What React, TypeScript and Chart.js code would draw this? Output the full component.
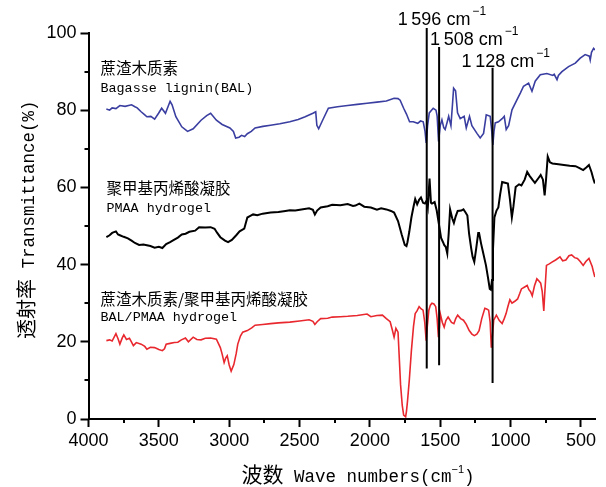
import React, { useEffect, useRef } from 'react';
import { Chart, registerables } from 'chart.js';

Chart.register(...registerables);

// ---- Data: [wavenumber (cm-1), transmittance (%)] ----
const balSpectrum: number[][] = [
  [3873, 80.3], [3850, 80.0], [3832, 80.6], [3805, 80.4], [3777, 81.2], [3740, 81.0], [3694, 81.4], [3670, 80.9],
  [3654, 80.6], [3626, 79.6], [3600, 78.8], [3585, 78.3], [3557, 78.4], [3530, 77.7], [3502, 79.2], [3480, 80.5],
  [3453, 79.2], [3420, 82.3], [3406, 81.4], [3379, 78.3], [3337, 75.7], [3296, 74.5], [3256, 75.2], [3200, 77.4],
  [3160, 78.6], [3132, 79.2], [3091, 77.4], [3050, 76.3], [2995, 75.4], [2970, 74.5], [2954, 72.8], [2930, 73.0],
  [2912, 73.5], [2890, 73.2], [2871, 73.9], [2843, 74.5], [2816, 75.4], [2760, 75.8], [2706, 76.1], [2640, 76.5],
  [2569, 77.0], [2510, 77.6], [2460, 78.3], [2405, 79.2], [2385, 79.6], [2377, 76.1], [2364, 75.2], [2336, 77.4],
  [2295, 80.5], [2230, 80.9], [2158, 81.2], [2090, 81.5], [2020, 81.8], [1950, 82.1], [1883, 82.4], [1828, 83.1],
  [1800, 83.0], [1785, 82.6], [1760, 80.5], [1740, 79.0], [1718, 77.0], [1692, 77.0], [1660, 76.6], [1640, 77.2],
  [1621, 77.0], [1608, 74.5], [1600, 71.5], [1590, 76.0], [1578, 79.3], [1550, 80.5], [1530, 80.0], [1522, 78.5],
  [1512, 71.9], [1500, 76.0], [1488, 77.5], [1475, 75.5], [1465, 75.0], [1450, 77.0], [1440, 78.4], [1424, 76.0],
  [1412, 82.0], [1405, 85.7], [1391, 85.0], [1377, 79.3], [1358, 77.8], [1330, 78.4], [1315, 75.4], [1292, 78.4],
  [1275, 76.0], [1239, 74.0], [1216, 72.8], [1192, 74.0], [1173, 78.8], [1145, 78.4], [1135, 75.0], [1126, 71.0],
  [1118, 74.5], [1109, 76.7], [1086, 77.0], [1060, 77.8], [1045, 78.4], [1031, 75.0], [1014, 76.0], [990, 80.1],
  [955, 82.7], [930, 84.5], [908, 86.2], [872, 87.0], [848, 84.9], [825, 87.5], [789, 89.2], [742, 89.5],
  [700, 89.0], [690, 89.3], [670, 87.9], [660, 89.0], [635, 90.0], [588, 91.3], [540, 92.2], [505, 93.5],
  [470, 94.4], [440, 94.0], [434, 93.0], [425, 95.0], [410, 96.0], [400, 95.6],
];

const pmaaSpectrum: number[][] = [
  [3873, 47.1], [3850, 47.6], [3832, 48.2], [3805, 48.6], [3790, 47.8], [3777, 47.6], [3750, 47.2], [3720, 46.8],
  [3694, 46.2], [3670, 45.6], [3640, 45.1], [3610, 45.2], [3585, 45.0], [3560, 44.8], [3530, 44.4], [3500, 44.6],
  [3475, 44.3], [3448, 45.3], [3420, 45.8], [3393, 46.4], [3365, 47.0], [3337, 47.8], [3310, 48.0], [3283, 48.5],
  [3242, 48.8], [3214, 49.7], [3170, 49.6], [3132, 49.7], [3104, 49.3], [3085, 48.2], [3063, 47.1], [3030, 46.2],
  [3008, 45.8], [2981, 46.4], [2950, 47.6], [2926, 48.6], [2893, 49.3], [2871, 52.2], [2850, 52.6], [2830, 53.0],
  [2800, 52.8], [2762, 53.2], [2706, 53.5], [2650, 53.6], [2600, 53.9], [2569, 54.1], [2530, 54.0], [2487, 54.3],
  [2432, 54.6], [2405, 54.2], [2391, 53.0], [2375, 54.0], [2350, 54.8], [2300, 55.1], [2268, 55.5], [2210, 55.4],
  [2158, 55.7], [2120, 55.2], [2103, 55.3], [2075, 55.8], [2040, 55.0], [1993, 54.8], [1950, 54.2], [1920, 54.6],
  [1883, 54.3], [1850, 53.9], [1828, 53.5], [1800, 51.3], [1774, 47.8], [1752, 45.1], [1740, 44.8], [1733, 45.8],
  [1720, 48.5], [1705, 52.2], [1690, 55.0], [1678, 57.0], [1664, 55.6], [1650, 56.8], [1637, 57.4], [1622, 56.0],
  [1609, 55.8], [1596, 56.6], [1588, 55.0], [1576, 62.3], [1566, 56.0], [1559, 55.8], [1540, 56.2], [1525, 54.0],
  [1513, 51.3], [1494, 46.9], [1480, 45.8], [1472, 45.1], [1460, 44.5], [1450, 42.9], [1440, 48.0], [1430, 54.3],
  [1415, 52.0], [1403, 50.8], [1390, 52.5], [1376, 53.9], [1350, 54.0], [1335, 54.3], [1320, 53.5], [1307, 52.7],
  [1295, 48.0], [1280, 44.2], [1270, 42.0], [1258, 40.7], [1245, 44.0], [1230, 48.2], [1224, 48.2], [1210, 45.5],
  [1197, 43.4], [1175, 39.8], [1160, 36.5], [1148, 33.7], [1140, 33.5], [1132, 36.0], [1125, 44.0], [1115, 52.2],
  [1100, 54.0], [1087, 54.8], [1075, 58.0], [1060, 61.4], [1040, 61.2], [1019, 61.0], [1005, 57.0], [991, 52.2],
  [980, 55.0], [964, 60.1], [940, 60.8], [923, 60.5], [900, 62.0], [882, 64.0], [865, 63.0], [845, 62.0],
  [827, 61.2], [800, 62.5], [786, 63.2], [770, 62.0], [758, 57.9], [748, 62.0], [736, 68.0], [720, 66.5],
  [703, 66.2], [660, 66.0], [621, 65.8], [580, 65.6], [538, 65.5], [510, 65.0], [484, 64.5], [460, 65.2],
  [443, 65.8], [425, 64.0], [410, 62.0], [401, 61.0],
];

const compositeSpectrum: number[][] = [
  [3873, 20.3], [3850, 20.5], [3832, 20.2], [3805, 22.1], [3790, 20.8], [3777, 19.4], [3760, 21.0], [3749, 21.8],
  [3730, 20.6], [3709, 20.9], [3695, 20.0], [3681, 19.0], [3660, 19.8], [3626, 19.4], [3600, 18.8], [3585, 18.1],
  [3560, 18.6], [3530, 18.5], [3500, 18.0], [3475, 17.7], [3460, 18.2], [3448, 19.4], [3420, 19.6], [3390, 19.8],
  [3365, 19.9], [3340, 20.5], [3311, 21.0], [3290, 20.0], [3256, 21.2], [3230, 20.6], [3200, 20.5], [3170, 20.9],
  [3132, 21.0], [3091, 20.7], [3063, 18.5], [3050, 16.8], [3036, 14.6], [3025, 15.8], [3014, 16.4], [3000, 14.0],
  [2986, 12.4], [2967, 14.1], [2950, 17.0], [2939, 19.4], [2920, 21.5], [2904, 22.5], [2871, 22.9], [2840, 23.6],
  [2816, 24.3], [2762, 24.5], [2706, 24.7], [2650, 24.9], [2569, 25.1], [2500, 25.4], [2432, 25.7], [2405, 25.3],
  [2391, 24.5], [2375, 25.2], [2350, 26.0], [2300, 26.1], [2268, 26.4], [2210, 26.5], [2158, 26.6], [2090, 26.8],
  [2020, 27.2], [1993, 26.5], [1950, 26.8], [1911, 26.9], [1883, 26.0], [1856, 25.2], [1840, 23.0], [1828, 21.2],
  [1815, 23.5], [1800, 22.5], [1790, 15.0], [1782, 8.9], [1770, 3.5], [1760, 1.0], [1746, 0.6], [1740, 2.0],
  [1733, 4.5], [1720, 10.0], [1705, 17.7], [1690, 24.0], [1678, 27.3], [1665, 28.0], [1650, 29.1], [1635, 28.5],
  [1622, 28.2], [1610, 25.0], [1600, 20.3], [1592, 24.0], [1581, 28.2], [1570, 29.5], [1559, 30.0], [1545, 29.8],
  [1532, 29.1], [1522, 26.0], [1513, 21.2], [1505, 24.0], [1500, 27.3], [1485, 25.0], [1472, 23.8], [1460, 25.5],
  [1444, 26.4], [1420, 25.0], [1403, 24.7], [1390, 26.0], [1376, 26.9], [1355, 26.0], [1335, 25.6], [1315, 24.5],
  [1294, 22.9], [1275, 22.0], [1258, 21.6], [1240, 22.0], [1224, 22.9], [1205, 26.0], [1183, 28.7], [1170, 28.5],
  [1156, 28.2], [1145, 25.0], [1137, 18.5], [1128, 22.0], [1120, 25.6], [1101, 26.9], [1080, 25.5], [1060, 24.7],
  [1045, 26.0], [1032, 27.3], [1020, 29.0], [1005, 30.9], [990, 30.0], [970, 30.5], [950, 31.1], [935, 32.5],
  [923, 33.7], [900, 34.2], [882, 34.6], [870, 33.5], [858, 33.0], [846, 31.9], [830, 34.5], [813, 36.3],
  [800, 35.8], [786, 35.2], [775, 33.0], [764, 28.0], [758, 32.0], [745, 39.8], [725, 40.2], [703, 40.7],
  [680, 41.2], [649, 42.0], [630, 41.0], [607, 41.2], [585, 42.3], [566, 42.5], [545, 41.8], [525, 41.6],
  [505, 40.8], [484, 39.8], [465, 40.8], [443, 41.6], [420, 39.5], [410, 38.0], [401, 36.8],
];

// Marker lines
const markerWave = [1596, 1508, 1128];
const markerTop = [101.3, 96.4, 91.0];
const markerBottom = [13.1, 13.9, 9.3];
const markerLabels = ['1\u2009596 cm', '1\u2009508 cm', '1\u2009128 cm'];

// Axis ticks
const xMajorTicks = [4000, 3500, 3000, 2500, 2000, 1500, 1000, 500];
const xMinorTicks = [3750, 3250, 2750, 2250, 1750, 1250, 750];
const yMajorTicks = [0, 20, 40, 60, 80, 100];
const yMinorTicks = [10, 30, 50, 70, 90];

// Series labels
const seriesNamesCN = ['蔗渣木质素', '聚甲基丙烯酸凝胶', '蔗渣木质素/聚甲基丙烯酸凝胶'];
const seriesNamesEN = ['Bagasse lignin(BAL)', 'PMAA hydrogel', 'BAL/PMAA hydrogel'];
const seriesColors = ['#3a3ea0', '#000000', '#e8282e'];

const xTitleCN = '波数';
const xTitleEN = ' Wave numbers(cm';
const yTitleCN = '透射率';
const yTitleEN = ' Transmittance(%)';

const CJK = '"Noto Sans CJK SC"';
const MONO = '"Liberation Mono"';
const SANS = '"Liberation Sans"';

type Part = { t: string; f: string; dy?: number; dx?: number };

function drawRun(ctx: CanvasRenderingContext2D, x: number, y: number, parts: Part[]) {
  let cx = x;
  for (const p of parts) {
    ctx.font = p.f;
    cx += p.dx || 0;
    ctx.fillText(p.t, cx, y + (p.dy || 0));
    cx += ctx.measureText(p.t).width;
  }
}

const toPoints = (s: number[][]) => s.map(([x, y]) => ({ x, y }));

export default function App() {
  const ref = useRef<HTMLCanvasElement>(null);

  useEffect(() => {
    const canvas = ref.current;
    if (!canvas) return;

    const overlay = {
      id: 'overlay',
      afterDraw(chart: any) {
        const ctx: CanvasRenderingContext2D = chart.ctx;
        const xs = chart.scales.x;
        const ys = chart.scales.y;
        const area = chart.chartArea;
        ctx.save();
        // minor ticks
        ctx.strokeStyle = '#000';
        ctx.lineWidth = 2;
        ctx.beginPath();
        xMinorTicks.forEach((v) => {
          const p = Math.round(xs.getPixelForValue(v));
          ctx.moveTo(p, area.bottom);
          ctx.lineTo(p, area.bottom + 4);
        });
        yMinorTicks.forEach((v) => {
          const p = Math.round(ys.getPixelForValue(v));
          ctx.moveTo(area.left - 4, p);
          ctx.lineTo(area.left, p);
        });
        ctx.stroke();

        ctx.fillStyle = '#000';
        ctx.textBaseline = 'alphabetic';
        ctx.textAlign = 'left';

        // marker labels
        const labelOffsets = [-29, -9, -31];
        const labelBaselines = [25, 44.5, 66.5];
        markerWave.forEach((w, i) => {
          const px = xs.getPixelForValue(w) + labelOffsets[i];
          drawRun(ctx, px, labelBaselines[i], [
            { t: markerLabels[i], f: `18px ${SANS}` },
            { t: '\u22121', f: `12px ${SANS}`, dy: -10, dx: 2 },
          ]);
        });

        // series labels
        const lx = [area.left + 12, area.left + 18, area.left + 12];
        const cnBase = [74, 193.5, 304.5];
        const enBase = [92, 212, 321];
        for (let i = 0; i < 3; i++) {
          drawRun(ctx, lx[i], cnBase[i], [{ t: seriesNamesCN[i], f: `15.5px ${CJK}` }]);
          drawRun(ctx, lx[i], enBase[i], [{ t: seriesNamesEN[i], f: `13.4px ${MONO}` }]);
        }

        // x title
        drawRun(ctx, 241.5, 482, [
          { t: xTitleCN, f: `21px ${CJK}` },
          { t: xTitleEN, f: `17.5px ${MONO}` },
          { t: '\u22121', f: `11px ${SANS}`, dy: -9, dx: 0 },
          { t: ')', f: `17.5px ${MONO}` },
        ]);

        // y title (rotated)
        ctx.translate(34, 339);
        ctx.rotate(-Math.PI / 2);
        drawRun(ctx, 0, 0, [
          { t: yTitleCN, f: `20px ${CJK}` },
          { t: yTitleEN, f: `17.5px ${MONO}` },
        ]);
        ctx.restore();
      },
    };

    const markerSets = markerWave.map((w, i) => ({
      label: 'marker' + i,
      data: [
        { x: w, y: markerTop[i] },
        { x: w, y: markerBottom[i] },
      ],
      borderColor: '#000',
      borderWidth: 2,
      pointRadius: 0,
      clip: false as any,
    }));

    const series = [balSpectrum, pmaaSpectrum, compositeSpectrum].map((s, i) => ({
      label: seriesNamesEN[i],
      data: toPoints(s),
      borderColor: seriesColors[i],
      borderWidth: i === 1 ? 2 : 1.6,
      pointRadius: 0,
      tension: 0,
    }));

    const chart = new Chart(canvas, {
      type: 'line',
      data: { datasets: [...markerSets, ...series] as any },
      options: {
        animation: false,
        responsive: false,
        devicePixelRatio: 1,
        layout: { padding: { left: 0, top: 33, right: 11, bottom: 0 } },
        plugins: { legend: { display: false }, tooltip: { enabled: false } },
        scales: {
          x: {
            type: 'linear',
            reverse: true,
            min: 400,
            max: 4000,
            grid: { display: true, drawOnChartArea: false, drawTicks: true, tickLength: 8, tickWidth: 2, tickColor: '#000' },
            border: { display: true, color: '#000', width: 2 },
            afterBuildTicks: (scale: any) => {
              scale.ticks = xMajorTicks.map((v) => ({ value: v }));
            },
            ticks: {
              color: '#000',
              padding: 3,
              maxRotation: 0,
              autoSkip: false,
              font: { family: 'Liberation Sans', size: 18 },
              callback: (v: any) => String(v),
            },
            afterFit: (scale: any) => {
              scale.height = 68;
            },
          },
          y: {
            type: 'linear',
            min: 0,
            max: 100,
            grid: { display: true, drawOnChartArea: false, drawTicks: true, tickLength: 8, tickWidth: 2, tickColor: '#000' },
            border: { display: true, color: '#000', width: 2 },
            afterBuildTicks: (scale: any) => {
              scale.ticks = yMajorTicks.map((v) => ({ value: v }));
            },
            ticks: {
              color: '#000',
              padding: 4,
              font: { family: 'Liberation Sans', size: 18 },
              callback: (v: any) => String(v),
            },
            afterFit: (scale: any) => {
              scale.width = 88.5;
            },
          },
        },
      },
      plugins: [overlay],
    });

    let alive = true;
    const fonts = (document as any).fonts;
    if (fonts && fonts.load) {
      Promise.all([
        fonts.load(`15px ${CJK}`, '蔗渣木质素聚甲基丙烯酸凝胶波数透射率'),
        fonts.load(`14px ${MONO}`),
        fonts.load(`18px ${SANS}`),
      ]).then(() => {
        if (alive) chart.update();
      }).catch(() => {});
    }

    return () => {
      alive = false;
      chart.destroy();
    };
  }, []);

  return (
    <div style={{ position: 'fixed', left: 0, top: 0, width: 606, height: 487, background: '#fff' }}>
      <canvas ref={ref} width={606} height={487} style={{ display: 'block' }} />
    </div>
  );
}
